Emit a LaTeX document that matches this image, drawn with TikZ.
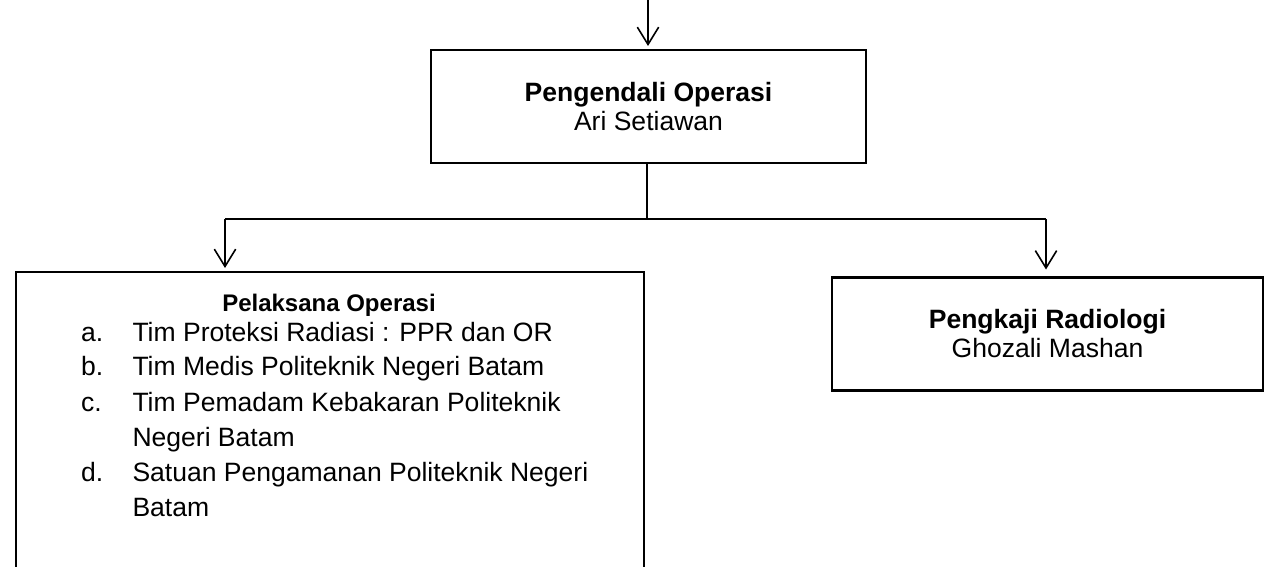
\documentclass[tikz,border=0pt]{standalone}
\usepackage{fontspec}
\setmainfont{Liberation Sans}
\usetikzlibrary{arrows.meta}
\begin{document}
\begin{tikzpicture}[x=0.75pt,y=-0.75pt,
  boxnode/.style={draw=black,line width=1.9pt,fill=none,inner sep=0pt,outer sep=0pt},
  conn/.style={draw=black,line width=1.2pt},
  arr/.style={conn,-{Straight Barb[length=13pt,width=16pt,line width=1.2pt]},shorten >=3pt},
  txt/.style={inner sep=0pt,outer sep=0pt,anchor=base,font=\fontsize{19.9pt}{24pt}\selectfont},
  btxt/.style={txt,font=\fontsize{19.9pt}{24pt}\selectfont\bfseries},
  htxt/.style={txt,font=\fontsize{18pt}{22pt}\selectfont\bfseries},
  itxt/.style={txt,anchor=base west}
]
\useasboundingbox (0,0) rectangle (1265,567);

% boxes
\node[boxnode,minimum width=326.25pt,minimum height=84.75pt] (po) at (648.5,106.5) {};
\node[boxnode,minimum width=323.25pt,minimum height=84.75pt] (pr) at (1047.5,334) {};
\node[boxnode,minimum width=471pt,minimum height=261pt] (pel) at (330,446) {};

% texts
\node[btxt] (poA) at (648.5,101.7) {Pengendali Operasi};
\node[txt]  (poB) at (648.5,131) {Ari Setiawan};
\node[btxt] (prA) at (1047.5,328) {Pengkaji Radiologi};
\node[txt]  (prB) at (1047.5,357) {Ghozali Mashan};

\node[htxt] (pelH) at (329,311) {Pelaksana Operasi};
\node[itxt] (la) at (81,341) {a.};
\node[itxt] (ta) at (132.5,341) {Tim Proteksi Radiasi : PPR dan OR};
\node[itxt] (lb) at (81,375.7) {b.};
\node[itxt] (tb) at (132.5,375.7) {Tim Medis Politeknik Negeri Batam};
\node[itxt] (lc) at (81,411) {c.};
\node[itxt] (tc) at (132.5,411) {Tim Pemadam Kebakaran Politeknik};
\node[itxt] (tc2) at (132.5,446.7) {Negeri Batam};
\node[itxt] (ld) at (81,481.7) {d.};
\node[itxt] (td) at (132.5,481.7) {Satuan Pengamanan Politeknik Negeri};
\node[itxt] (td2) at (132.5,516.7) {Batam};

% connectors
\coordinate (top) at (648,0);
\draw[arr] (top) -- (top |- po.north);
\coordinate (jm) at (647,219);
\coordinate (jl) at (225,219);
\coordinate (jr) at (1046,219);
\draw[conn] (po.south -| jm) -- (jm);
\draw[conn] (jl) -- (jr);
\draw[arr] (jl) -- (jl |- pel.north);
\draw[arr,shorten >=6pt] (jr) -- (jr |- pr.north);
\end{tikzpicture}
\end{document}
